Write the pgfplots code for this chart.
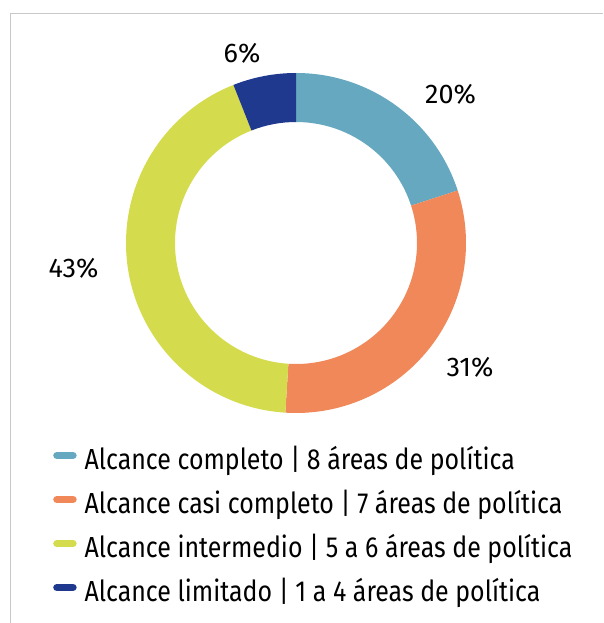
\documentclass[border=0pt]{standalone}
\usepackage{fontspec}
\setmainfont{Fira Sans}[FakeStretch=0.86]
\newfontfamily\pctfont{Fira Sans}
\usepackage{pgfplots}
\usepackage{pgfplotstable}
\pgfplotsset{compat=1.18}
\definecolor{cA}{RGB}{101,168,192}
\definecolor{cB}{RGB}{240,136,90}
\definecolor{cC}{RGB}{212,219,76}
\definecolor{cD}{RGB}{31,57,142}
\definecolor{framegray}{RGB}{200,200,200}
\tikzset{pct/.style={font=\pctfont\fontsize{27}{30}\selectfont, text=black, inner sep=0pt}}

\pgfplotstableread{
value col lx ly
20 cA 450.5 94.5
31 cB 470 367.5
43 cC 73.5 268
6 cD 242 53.5
}\donut

\begin{document}
\begin{tikzpicture}
\useasboundingbox (0,0) rectangle (603pt,623pt);
\begin{axis}[at={(0,0)}, anchor=south west, width=603pt, height=623pt, scale only axis,
  xmin=0, xmax=603, ymin=0, ymax=623, y dir=reverse, hide axis, clip=false,
  legend style={at={(axis cs:53,448.7)}, anchor=north west, draw=none, fill=none,
    font=\fontsize{29}{32}\selectfont, row sep=16pt, inner sep=0pt,
    nodes={text height=21pt, text depth=7pt, inner sep=0pt}, cells={anchor=west}},
  legend image code/.code={\draw[#1, line width=7.5pt, line cap=round] (4pt,7.5pt) -- (20pt,7.5pt); \path (31.5pt,7.5pt);},
]
\draw[framegray, line width=1pt] (axis cs:10,623) -- (axis cs:10,14) -- (axis cs:603,14);
\def\cum{0}
\pgfplotsforeachungrouped \i in {0,...,3}{%
  \pgfplotstablegetelem{\i}{value}\of\donut \let\v\pgfplotsretval
  \pgfplotstablegetelem{\i}{col}\of\donut \let\c\pgfplotsretval
  \pgfplotstablegetelem{\i}{lx}\of\donut \let\lx\pgfplotsretval
  \pgfplotstablegetelem{\i}{ly}\of\donut \let\ly\pgfplotsretval
  \pgfmathsetmacro\aS{90-3.6*\cum}%
  \pgfmathsetmacro\aE{90-3.6*(\cum+\v)}%
  \pgfmathsetmacro\cum{\cum+\v}%
  \edef\temp{\noexpand\fill[\c, shift={(axis cs:296,243)}] (\aS:170pt) arc[start angle=\aS, end angle=\aE, radius=170pt] -- (\aE:121pt) arc[start angle=\aE, end angle=\aS, radius=121pt] -- cycle;
    \noexpand\node[pct] at (axis cs:\lx,\ly) {\v\noexpand\%};}%
  \temp
}
\addlegendimage{cA}\addlegendentry{Alcance completo | 8 áreas de política}
\addlegendimage{cB}\addlegendentry{Alcance casi completo | 7 áreas de política}
\addlegendimage{cC}\addlegendentry{Alcance intermedio | 5 a 6 áreas de política}
\addlegendimage{cD}\addlegendentry{Alcance limitado | 1 a 4 áreas de política}
\end{axis}
\end{tikzpicture}
\end{document}
